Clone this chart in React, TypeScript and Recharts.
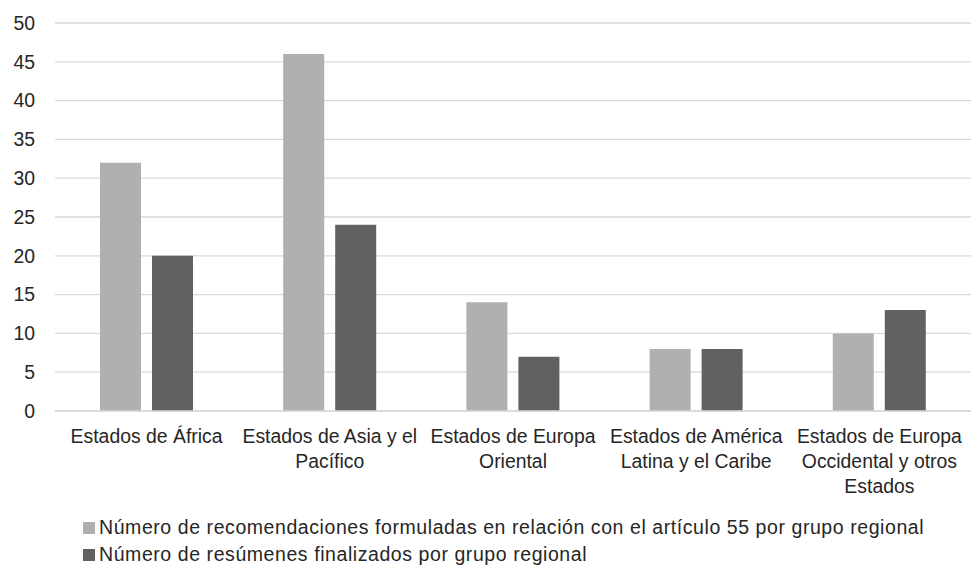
import { BarChart, Bar, XAxis, YAxis, CartesianGrid, Legend, Text } from "recharts";

const regions = [
  "Estados de África",
  "Estados de Asia y el Pacífico",
  "Estados de Europa Oriental",
  "Estados de América Latina y el Caribe",
  "Estados de Europa Occidental y otros Estados",
];
const recommendations = [32, 46, 14, 8, 10];
const summaries = [20, 24, 7, 8, 13];
const yTicks = [0, 5, 10, 15, 20, 25, 30, 35, 40, 45, 50];

const seriesInfo = [
  { key: "recomendaciones", name: "Número de recomendaciones formuladas en relación con el artículo 55 por grupo regional", color: "#b0b0b0" },
  { key: "resumenes", name: "Número de resúmenes finalizados por grupo regional", color: "#616161" },
];

const data = regions.map((name, i) => ({
  name,
  recomendaciones: recommendations[i],
  resumenes: summaries[i],
}));

const FONT = '"Liberation Sans", Arial, sans-serif';
const TEXT_COLOR = "#262626";

const RegionTick = (props: any) => {
  const { x, y, payload } = props;
  return (
    <Text
      x={x}
      y={y}
      width={186}
      textAnchor="middle"
      verticalAnchor="start"
      lineHeight={25}
      fill={TEXT_COLOR}
      style={{ fontSize: 19.4, fontFamily: FONT }}
    >
      {payload.value}
    </Text>
  );
};

const LegendBox = () => (
  <div style={{ fontFamily: FONT, fontSize: 19.5, letterSpacing: 0.57, color: TEXT_COLOR }}>
    {seriesInfo.map((s) => (
      <div key={s.key} style={{ display: "flex", alignItems: "center", height: 27, whiteSpace: "nowrap" }}>
        <span style={{ display: "inline-block", width: 12, height: 12, background: s.color, marginRight: 4 }} />
        <span>{s.name}</span>
      </div>
    ))}
  </div>
);

const App = () => {
  return (
    <div style={{ position: "absolute", left: 0, top: 0, width: 971, height: 576, background: "#fff" }}>
      <BarChart
        width={971}
        height={576}
        data={data}
        margin={{ top: 23, right: 0, left: 0, bottom: 105 }}
        barGap={11}
      >
        <CartesianGrid vertical={false} stroke="#d9d9d9" strokeWidth={1.3} />
        <XAxis
          dataKey="name"
          height={60}
          interval={0}
          tickLine={false}
          tickMargin={12}
          axisLine={{ stroke: "#d9d9d9", strokeWidth: 1.5 }}
          tick={<RegionTick />}
        />
        <YAxis
          width={55}
          domain={[0, 50]}
          ticks={yTicks}
          interval={0}
          axisLine={false}
          tickLine={false}
          tickMargin={14}
          tick={{ fill: TEXT_COLOR, fontSize: 19.4, fontFamily: FONT }}
        />
        <Legend
          layout="vertical"
          align="center"
          verticalAlign="middle"
          wrapperStyle={{ left: 83, top: 514, width: 885 }}
          content={<LegendBox />}
        />
        {seriesInfo.map((s) => (
          <Bar
            key={s.key}
            dataKey={s.key}
            name={s.name}
            fill={s.color}
            barSize={41}
            isAnimationActive={false}
          />
        ))}
      </BarChart>
    </div>
  );
};

export default App;
